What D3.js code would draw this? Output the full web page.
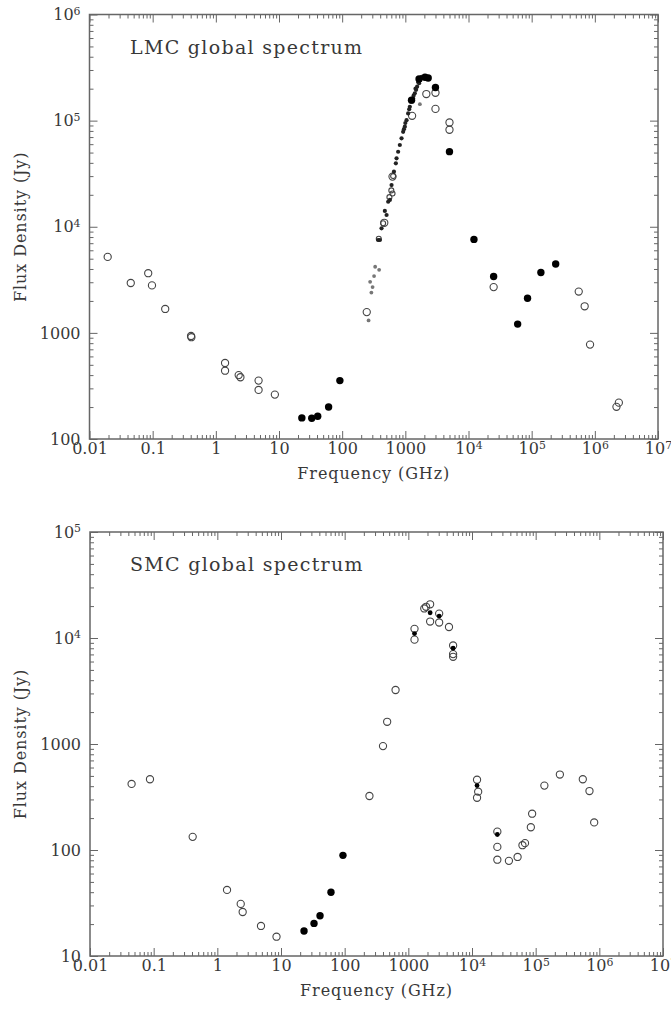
<!DOCTYPE html>
<html>
<head>
<meta charset="utf-8">
<script src="https://cdn.jsdelivr.net/npm/d3@7"></script>
<style>
  body { margin: 0; background: #fff; }
  svg text { font-family: "DejaVu Serif", "Liberation Serif", serif; fill: #383838; }
</style>
</head>
<body>
<div id="chart"></div>
<script>
// canvas
const WIDTH = 671;
const HEIGHT = 1009;

// shared x axis (frequency, GHz)
const xTicks = [0.01, 0.1, 1, 10, 100, 1000, 1e4, 1e5, 1e6, 1e7];
const xTickLabels = ["0.01", "0.1", "1", "10", "100", "1000", "10^4", "10^5", "10^6", "10^7"];

// LMC panel ticks
const lmcYTicks = [100, 1000, 1e4, 1e5, 1e6];
const lmcYTickLabels = ["100", "1000", "10^4", "10^5", "10^6"];

// LMC data: [frequency GHz, flux Jy]
const lmcOpen = [
  [0.0194, 5200], [0.045, 2950], [0.085, 3650], [0.0975, 2800], [0.158, 1680],
  [0.405, 935], [0.41, 910], [1.4, 520], [1.4, 440], [2.3, 400], [2.45, 382],
  [4.75, 355], [4.75, 290], [8.6, 262],
  [245, 1570], [627, 29700], [464, 10900], [1280, 111000],
  [2150, 178000], [3000, 183000], [3000, 129000], [5000, 96000], [5000, 82000],
  [25000, 2700], [556000, 2450], [690000, 1780], [840000, 775], [2.4e6, 220], [2.2e6, 201]
];
const lmcFilled = [
  [23, 158], [33, 157], [41, 164], [61, 200], [92, 355],
  [1253, 156000], [1650, 247000], [2050, 256000], [2300, 252000], [3000, 205000],
  [5000, 51000], [12200, 7600],
  [25000, 3400], [60000, 1210], [86000, 2120], [140000, 3700], [240000, 4450]
];
const lmcRidge = [
  [371, 7500], [395, 7500], [420, 9660], [474, 14100], [505, 12900], [535, 17200],
  [569, 17900], [605, 24700], [660, 33000], [708, 39600], [726, 44100], [769, 50900],
  [818, 58900], [871, 68100], [923, 78500], [950, 83000], [982, 87700], [1000, 95000],
  [1045, 101000], [1107, 117000], [1150, 128000], [1178, 135000], [1253, 151000],
  [1328, 162000], [1350, 172000], [1413, 181000], [1450, 200000], [1480, 195000],
  [1538, 209000], [1600, 230000], [1652, 225000], [1700, 240000], [1804, 259000], [1900, 255000]
];
const lmcRidgeOpen = [
  [380, 7700], [445, 10800], [560, 19000], [600, 22000], [627, 20600], [641, 30000]
];
const lmcGray = [
  [262, 1310], [277, 3030], [290, 2400], [303, 2700], [320, 3430], [333, 4200],
  [385, 3930], [1700, 143000]
];

// SMC panel ticks
const smcYTicks = [10, 100, 1000, 1e4, 1e5];
const smcYTickLabels = ["10", "100", "1000", "10^4", "10^5"];

// SMC data
const smcOpen = [
  [0.045, 420], [0.0875, 465], [0.41, 133], [1.42, 42], [2.33, 31], [2.5, 26],
  [4.85, 19.2], [8.5, 15.2],
  [245, 323], [400, 955], [465, 1620], [630, 3230],
  [1250, 12200], [1250, 9650], [1780, 19000], [1900, 19700], [2200, 20800], [2200, 14300],
  [3050, 17000], [3050, 14000], [4350, 12700], [5050, 8500], [5050, 7050], [5050, 6650],
  [12000, 460], [12500, 355], [12000, 311],
  [25000, 149], [25000, 107], [25000, 81], [38000, 79], [52000, 86], [62000, 111],
  [68000, 116], [84000, 164], [88000, 220], [137000, 405], [240000, 515],
  [550000, 465], [700000, 360], [830000, 182]
];
const smcFilled = [
  [23, 17.2], [33, 20.3], [41, 24], [61, 40], [94, 89]
];
const smcSmallFilled = [
  [1250, 11000], [2200, 17300], [3050, 16100], [5050, 8000], [12000, 405], [25000, 140]
];

const svg = d3.select("#chart")
  .append("svg")
    .attr("width", WIDTH)
    .attr("height", HEIGHT);

const panels = [
  {
    title: "LMC global spectrum",
    left: 89.5, right: 658, top: 14.5, bottom: 439,
    yDomain: [100, 1e6], yTicks: lmcYTicks, yLabels: lmcYTickLabels,
    series: [
      {data: lmcGray, r: 1.9, fill: "#777", stroke: "none"},
      {data: lmcOpen, r: 3.6, fill: "none", stroke: "#444"},
      {data: lmcRidgeOpen, r: 2.5, fill: "none", stroke: "#444"},
      {data: lmcRidge, r: 2.1, fill: "#222", stroke: "none"},
      {data: lmcFilled, r: 3.7, fill: "#000", stroke: "none"}
    ]
  },
  {
    title: "SMC global spectrum",
    left: 90, right: 663, top: 532, bottom: 956,
    yDomain: [10, 1e5], yTicks: smcYTicks, yLabels: smcYTickLabels,
    series: [
      {data: smcOpen, r: 3.6, fill: "none", stroke: "#444"},
      {data: smcFilled, r: 3.7, fill: "#000", stroke: "none"},
      {data: smcSmallFilled, r: 2.4, fill: "#000", stroke: "none"}
    ]
  }
];

// writes "10^4" style labels as base + superscript
function setLabel(sel, label) {
  sel.text(null);
  const parts = label.split("^");
  sel.append("tspan").text(parts[0]);
  if (parts.length > 1) {
    sel.append("tspan")
      .attr("dy", "-0.5em")
      .attr("font-size", "0.68em")
      .text(parts[1]);
  }
}

function styleAxis(g) {
  g.select(".domain").remove();
  g.selectAll(".tick line").attr("stroke", "#666").attr("stroke-width", 1);
  g.attr("font-family", null).attr("font-size", 16);
}

function drawPanel(p) {
  const x = d3.scaleLog().domain([0.01, 1e7]).range([p.left, p.right]);
  const y = d3.scaleLog().domain(p.yDomain).range([p.bottom, p.top]);

  const isMajor = (v) => Math.abs(Math.log10(v) - Math.round(Math.log10(v))) < 1e-9;
  const xMinor = x.ticks().filter((d) => !isMajor(d));
  const yMinor = y.ticks().filter((d) => !isMajor(d));

  const g = svg.append("g");

  // minor ticks on all four sides, pointing inward
  g.append("g").attr("transform", `translate(0,${p.bottom})`)
    .call(d3.axisBottom(x).tickValues(xMinor).tickSize(-4).tickFormat(""))
    .call(styleAxis);
  g.append("g").attr("transform", `translate(0,${p.top})`)
    .call(d3.axisTop(x).tickValues(xMinor).tickSize(-4).tickFormat(""))
    .call(styleAxis);
  g.append("g").attr("transform", `translate(${p.left},0)`)
    .call(d3.axisLeft(y).tickValues(yMinor).tickSize(-4).tickFormat(""))
    .call(styleAxis);
  g.append("g").attr("transform", `translate(${p.right},0)`)
    .call(d3.axisRight(y).tickValues(yMinor).tickSize(-4).tickFormat(""))
    .call(styleAxis);

  // major ticks with labels
  const bottomAxis = g.append("g").attr("transform", `translate(0,${p.bottom})`)
    .call(d3.axisBottom(x).tickValues(xTicks).tickSize(-8).tickPadding(4))
    .call(styleAxis);
  bottomAxis.selectAll(".tick text").each(function(d) {
    setLabel(d3.select(this), xTickLabels[xTicks.indexOf(d)]);
  });

  g.append("g").attr("transform", `translate(0,${p.top})`)
    .call(d3.axisTop(x).tickValues(xTicks).tickSize(-8).tickFormat(""))
    .call(styleAxis);

  const leftAxis = g.append("g").attr("transform", `translate(${p.left},0)`)
    .call(d3.axisLeft(y).tickValues(p.yTicks).tickSize(-8).tickPadding(9))
    .call(styleAxis);
  leftAxis.selectAll(".tick text").each(function(d) {
    setLabel(d3.select(this), p.yLabels[p.yTicks.indexOf(d)]);
  });

  g.append("g").attr("transform", `translate(${p.right},0)`)
    .call(d3.axisRight(y).tickValues(p.yTicks).tickSize(-8).tickFormat(""))
    .call(styleAxis);

  // frame
  g.append("rect")
    .attr("x", p.left)
    .attr("y", p.top)
    .attr("width", p.right - p.left)
    .attr("height", p.bottom - p.top)
    .attr("fill", "none")
    .attr("stroke", "#666")
    .attr("stroke-width", 1.5);

  // points
  p.series.forEach((s) => {
    g.append("g").selectAll("circle")
      .data(s.data)
      .enter()
      .append("circle")
        .attr("cx", (d) => x(d[0]))
        .attr("cy", (d) => y(d[1]))
        .attr("r", s.r)
        .attr("fill", s.fill)
        .attr("stroke", s.stroke)
        .attr("stroke-width", 1.1);
  });

  // texts
  g.append("text")
    .attr("x", 130)
    .attr("y", p.top + 39)
    .attr("font-size", 19)
    .attr("letter-spacing", 1.3)
    .text(p.title);

  g.append("text")
    .attr("x", (p.left + p.right) / 2)
    .attr("y", p.bottom + 40)
    .attr("text-anchor", "middle")
    .attr("font-size", 16)
    .attr("letter-spacing", 0.9)
    .text("Frequency (GHz)");

  g.append("text")
    .attr("transform", `translate(26,${(p.top + p.bottom) / 2}) rotate(-90)`)
    .attr("text-anchor", "middle")
    .attr("font-size", 16)
    .attr("letter-spacing", 0.9)
    .text("Flux Density (Jy)");
}

panels.forEach(drawPanel);
</script>
</body>
</html>
